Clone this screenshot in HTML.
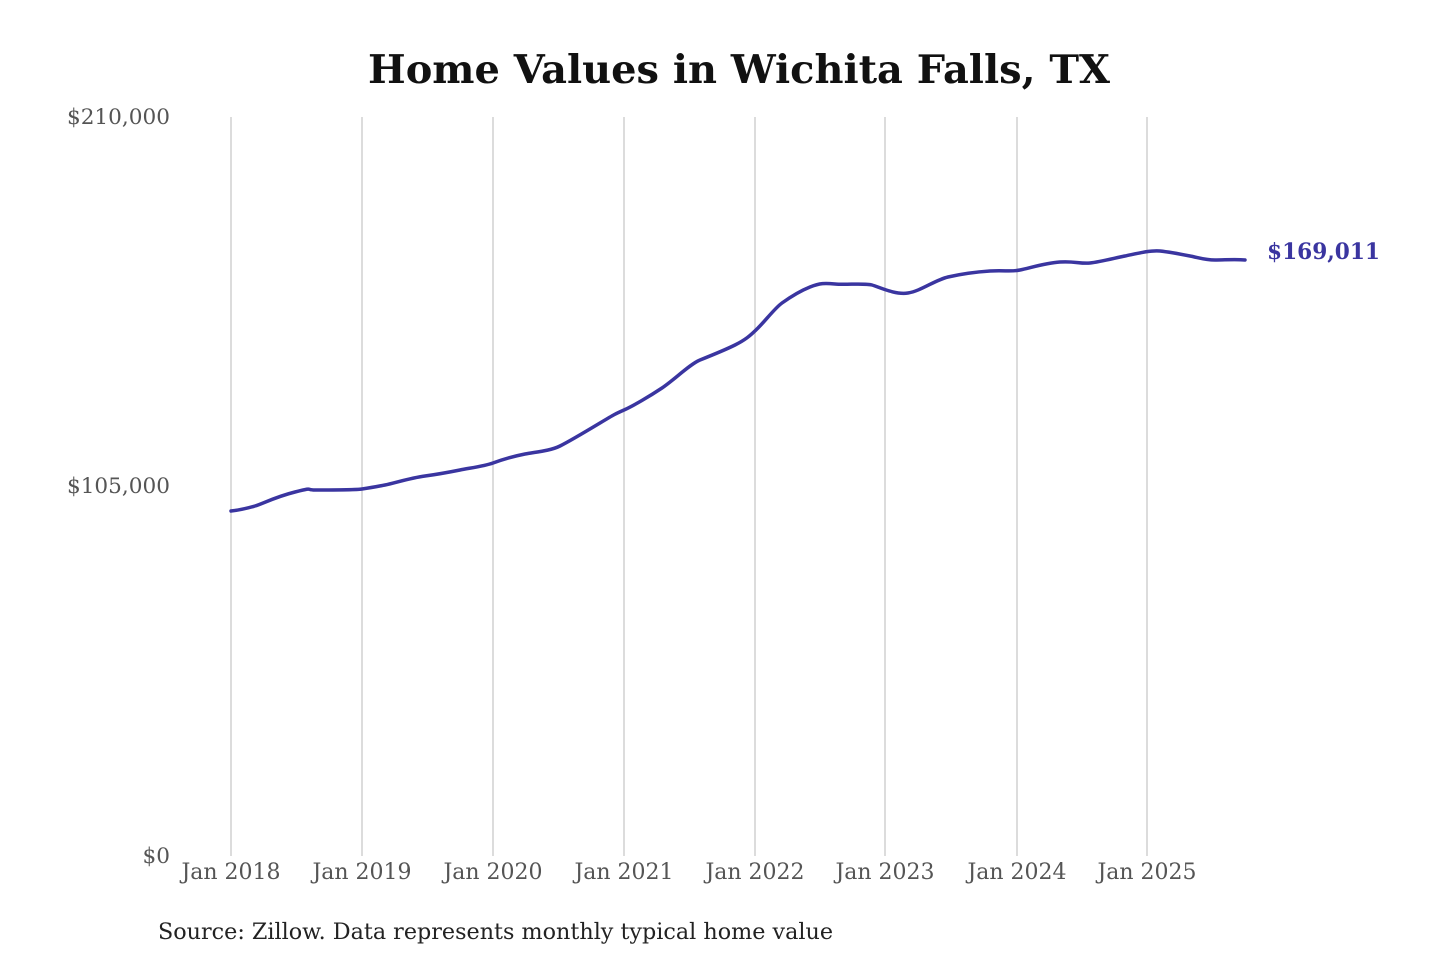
<!DOCTYPE html>
<html><head><meta charset="utf-8"><style>
body{margin:0;background:#fff;}
svg text{font-family:"DejaVu Serif","Liberation Serif",serif;}
</style></head><body>
<svg width="1440" height="960" viewBox="0 0 1440 960" xmlns="http://www.w3.org/2000/svg">
<rect width="1440" height="960" fill="#fff"/>
<text x="739" y="83" text-anchor="middle" font-size="39" font-weight="bold" fill="#111" textLength="742" lengthAdjust="spacingAndGlyphs">Home Values in Wichita Falls, TX</text>
<g stroke="#c4c4c4" stroke-width="1.2">
<line x1="231" y1="117" x2="231" y2="856"/>
<line x1="362" y1="117" x2="362" y2="856"/>
<line x1="493" y1="117" x2="493" y2="856"/>
<line x1="624" y1="117" x2="624" y2="856"/>
<line x1="755" y1="117" x2="755" y2="856"/>
<line x1="885" y1="117" x2="885" y2="856"/>
<line x1="1017" y1="117" x2="1017" y2="856"/>
<line x1="1147" y1="117" x2="1147" y2="856"/>
</g>
<g font-size="21.6" fill="#555" text-anchor="end">
<text x="170" y="124">$210,000</text>
<text x="170" y="493">$105,000</text>
<text x="170" y="863">$0</text>
</g>
<g font-size="22" fill="#555" text-anchor="middle">
<text x="231" y="879">Jan 2018</text>
<text x="362" y="879">Jan 2019</text>
<text x="493" y="879">Jan 2020</text>
<text x="624" y="879">Jan 2021</text>
<text x="755" y="879">Jan 2022</text>
<text x="885" y="879">Jan 2023</text>
<text x="1017" y="879">Jan 2024</text>
<text x="1147" y="879">Jan 2025</text>
</g>
<text x="158" y="939" font-size="22" fill="#222" textLength="675" lengthAdjust="spacingAndGlyphs">Source: Zillow. Data represents monthly typical home value</text>
<path d="M231,511 C240,510 248,508 255,506 S275,497 295,492 S305,490 315,490 S355,490 362,489 S375,487 385,485 S410,478 425,476 S450,472 460,470 S485,466 493,463 S515,456 525,454 S550,451 560,446 S585,432 600,423 S615,414 624,410 S650,396 662,388 S690,364 700,360 S725,350 735,345 S750,336 758,328 S775,308 782,303 S800,291 810,287 S825,283 835,284 S865,283 872,285 S895,295 908,293 S935,280 948,277 S975,272 990,271 S1010,272 1020,270 S1045,263 1060,262 S1080,264 1090,263 S1115,258 1125,256 S1150,250 1160,251 S1180,254 1190,256 S1205,260 1215,260 S1235,259 1245,260" fill="none" stroke="#3a35a0" stroke-width="3.5" stroke-linecap="round" stroke-linejoin="round"/>
<text x="1267" y="259" font-size="22" font-weight="bold" fill="#3a35a0" textLength="113" lengthAdjust="spacingAndGlyphs">$169,011</text>
</svg>
</body></html>
